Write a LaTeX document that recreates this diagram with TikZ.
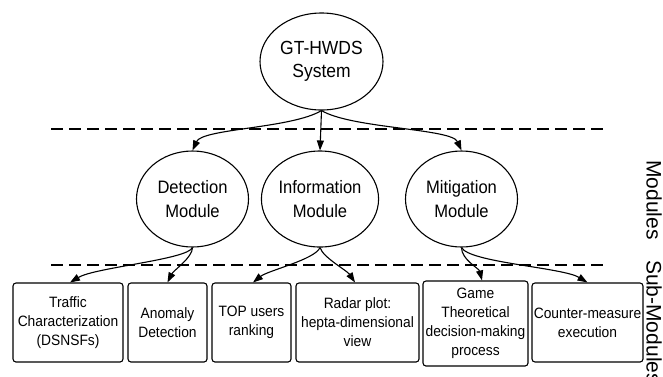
\documentclass[tikz,border=0pt]{standalone}
\usepackage{fontspec}
\setmainfont{Liberation Sans}[FakeStretch=0.92]
\newfontfamily\sidefont{Liberation Sans}
\usetikzlibrary{shapes.geometric,arrows.meta}

\begin{document}
\begin{tikzpicture}[x=1pt,y=-1pt,
    lvl/.style={draw,ellipse,line width=1.1pt,inner sep=0pt,align=center,
      minimum width=112pt,minimum height=96pt,font=\fontsize{18}{24}\selectfont},
    subbox/.style={draw,rounded corners=3pt,line width=1.1pt,inner sep=0pt,align=center,
      minimum height=79pt,font=\fontsize{15}{19}\selectfont},
    link/.style={line width=1.1pt,-{Triangle[length=10pt,width=7pt]}},
    sep/.style={line width=1.1pt,dash pattern=on 12pt off 6pt},
    side/.style={rotate=-90,inner sep=0pt,font=\sidefont\fontsize{21}{21}\selectfont}]
  \useasboundingbox (0,0) rectangle (663,376);

  % system
  \node[lvl,minimum width=123pt,minimum height=97pt,font=\fontsize{19}{23.5}\selectfont]
    (sys) at (321.5,61.5) {GT-HWDS\\System};

  % modules
  \node[lvl] (det) at (192.5,199) {Detection\\Module};
  \node[lvl] (inf) at (320,199) {Information\\Module};
  \node[lvl] (mit) at (461.5,199) {Mitigation\\Module};

  % sub-modules
  \node[subbox,minimum width=110pt] (traf) at (68,322.5) {Traffic\\Characterization\\(DSNSFs)};
  \node[subbox,minimum width=79pt] (anom) at (167.5,322.5) {Anomaly\\Detection};
  \node[subbox,minimum width=79pt] (rank) at (251.5,322.5) {TOP users\\ranking};
  \node[subbox,minimum width=123pt] (radar) at (357.5,322.5) {Radar plot:\\hepta-dimensional\\view};
  \node[subbox,minimum width=105pt,minimum height=85pt] (game) at (475.5,323.5)
    {Game\\Theoretical\\decision-making\\process};
  \node[subbox,minimum width=111pt] (cm) at (587.5,322.5) {Counter-measure\\execution};

  % separators
  \draw[sep] (51,129) -- (604,129);
  \draw[sep] (51,265) -- (604,265);

  % side labels
  \node[side] (lmod) at (654,200) {Modules};
  \node[side] (lsub) at (654,322) {Sub-Modules};

  % links
  \draw[link] (sys.south) .. controls +(-30,18) and +(10,-22) .. (det.north);
  \draw[link] (sys.south) -- (inf.north);
  \draw[link] (sys.south) .. controls +(30,18) and +(-10,-22) .. (mit.north);

  \draw[link] (det.south) .. controls +(-5,12) and +(25,-15) .. ([xshift=2pt]traf.north);
  \draw[link] (det.south) .. controls +(0,10) and +(6,-12) .. (anom.north);
  \draw[link] (inf.south) .. controls +(-5,12) and +(15,-12) .. ([xshift=1.5pt]rank.north);
  \draw[link] (inf.south) .. controls +(3,10) and +(-8,-12) .. ([xshift=-2.5pt]radar.north);
  \draw[link] (mit.south) .. controls +(0,12) and +(-3,-12) .. ([xshift=6.5pt]game.north);
  \draw[link] (mit.south) .. controls +(8,15) and +(-25,-15) .. (cm.north);
\end{tikzpicture}
\end{document}
